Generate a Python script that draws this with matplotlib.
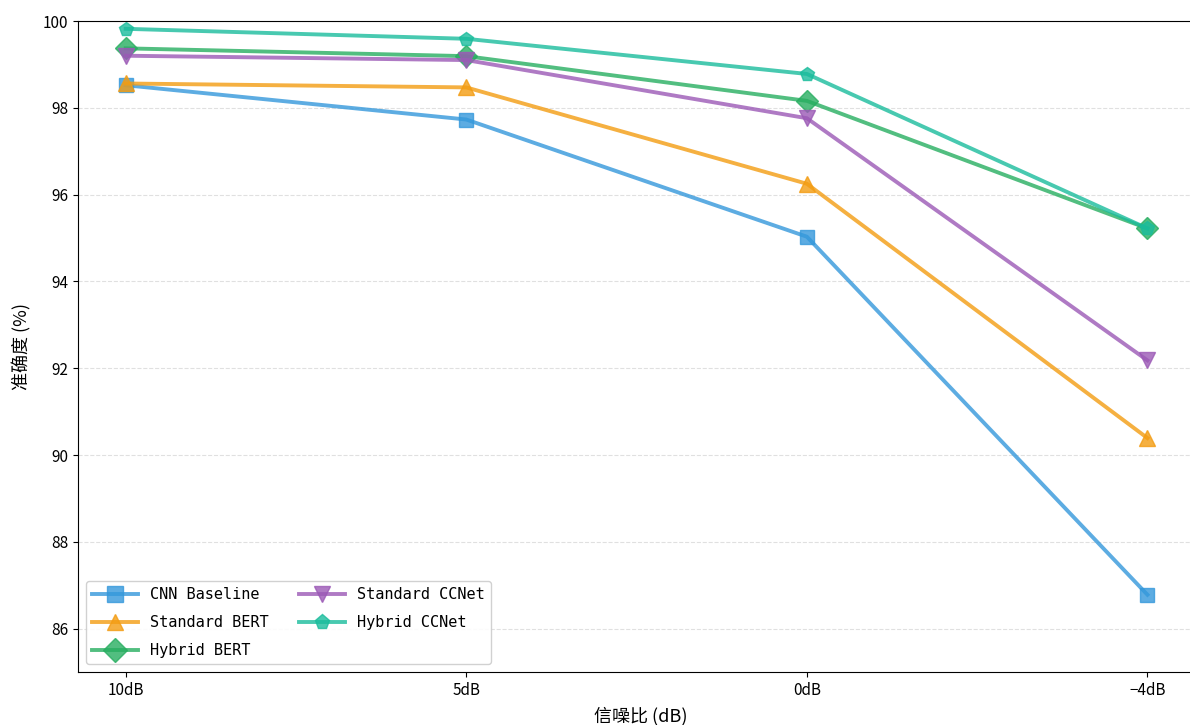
import matplotlib
matplotlib.use('Agg')

import matplotlib.pyplot as plt

plt.rcParams['font.family'] = ['Noto Sans CJK SC', 'DejaVu Sans']
plt.rcParams['axes.unicode_minus'] = False

snr_labels = ['10dB', '5dB', '0dB', '−4dB']

cnn_baseline = [98.52, 97.73, 95.03, 86.78]
standard_bert = [98.56, 98.47, 96.25, 90.39]
hybrid_bert = [99.37, 99.19, 98.16, 95.22]
standard_ccnet = [99.20, 99.10, 97.76, 92.18]
hybrid_ccnet = [99.82, 99.59, 98.78, 95.22]

series = [
    ('CNN Baseline', cnn_baseline, '#3498db', 's'),
    ('Standard BERT', standard_bert, '#f39c12', '^'),
    ('Hybrid BERT', hybrid_bert, '#27ae60', 'D'),
    ('Standard CCNet', standard_ccnet, '#9b59b6', 'v'),
    ('Hybrid CCNet', hybrid_ccnet, '#1abc9c', 'p'),
]

fig = plt.figure(figsize=(11.9, 7.25), dpi=100)
ax = fig.add_axes([78 / 1190, 53 / 725, 1126 / 1190, 651 / 725])

x = list(range(len(snr_labels)))
for name, vals, color, marker in series:
    ms = 10 if marker in ('s', 'p') else 11
    ax.plot(x, vals, color=color, marker=marker, markersize=ms,
            linewidth=2.8, alpha=0.8, label=name)

ax.set_xticks(x)
ax.set_xticklabels(snr_labels)
ax.set_xlim(-0.14, 3.166)
ax.set_ylim(85, 100)
ax.set_yticks([86, 88, 90, 92, 94, 96, 98, 100])
ax.tick_params(labelsize=11)

ax.set_xlabel('信噪比 (dB)', fontsize=13, labelpad=6)
ax.set_ylabel('准确度 (%)', fontsize=13, labelpad=8)

ax.grid(axis='y', linestyle='--', color='#cccccc', alpha=0.6)
ax.set_axisbelow(True)

# legend text in a fixed-width face
ax.legend(loc='lower left', ncol=2, framealpha=0.9,
          prop={'family': ['DejaVu Sans Mono', 'Noto Sans CJK SC'], 'size': 11},
          handlelength=3, columnspacing=2.0, markerscale=1.1,
          labelspacing=0.85)

fig.savefig('out.png', dpi=100)
plt.close(fig)
